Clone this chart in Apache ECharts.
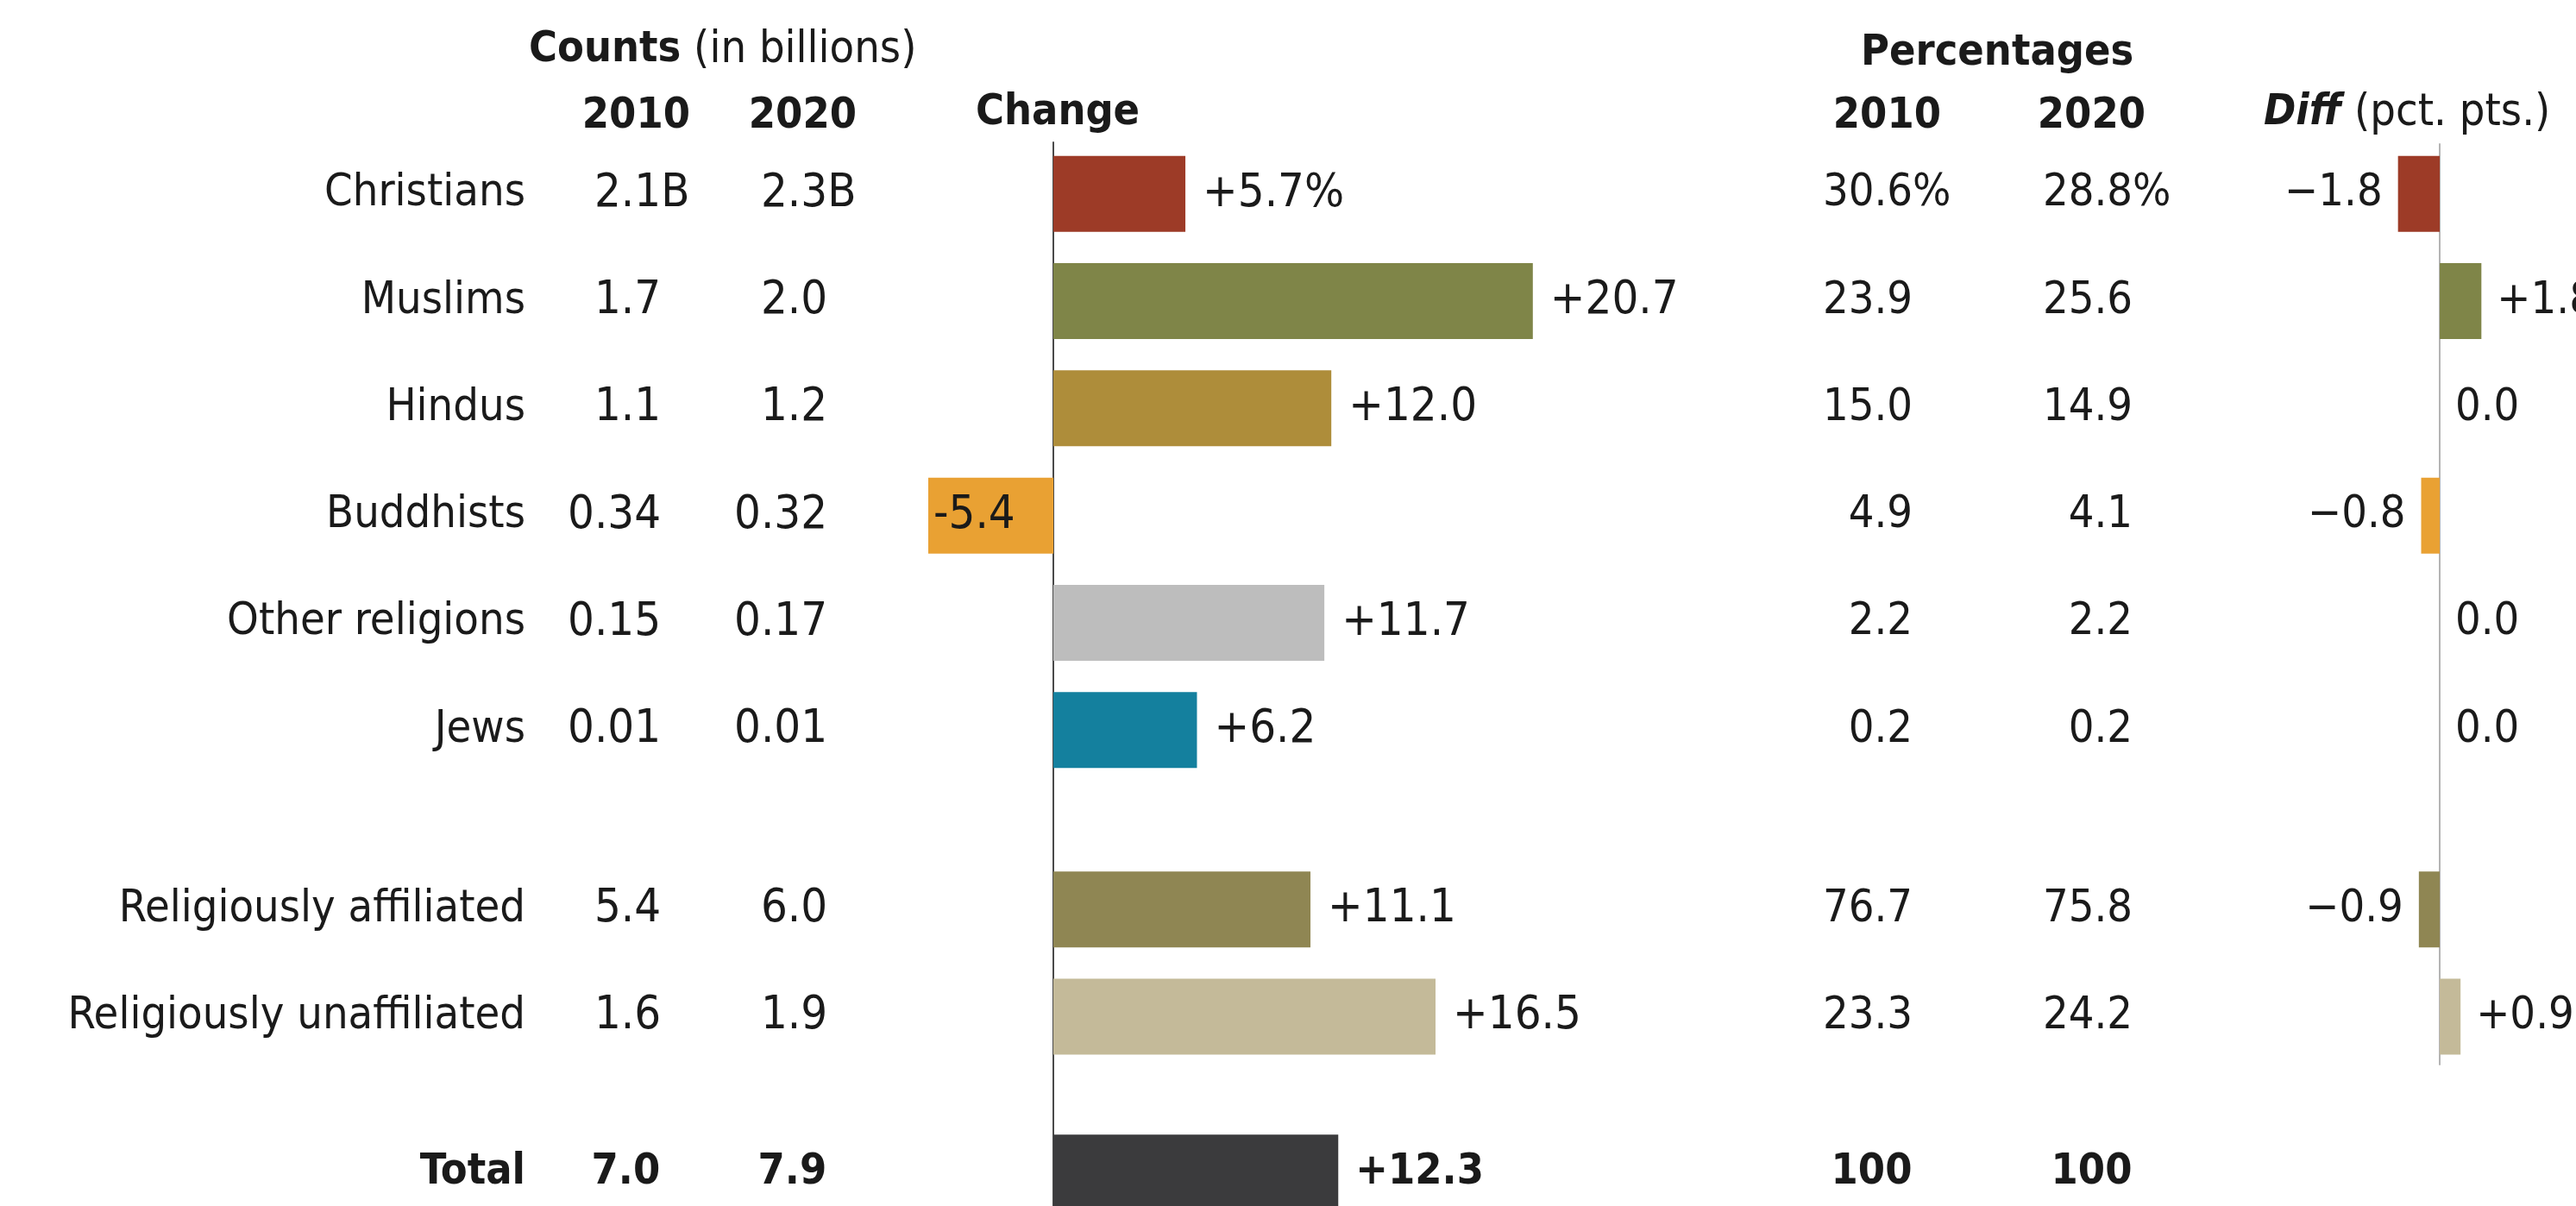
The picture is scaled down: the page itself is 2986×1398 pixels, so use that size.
<!DOCTYPE html>
<html><head><meta charset="utf-8">
<script src="https://cdn.jsdelivr.net/npm/echarts@6/dist/echarts.min.js"></script>
<style>html,body{margin:0;padding:0;background:#fff}#c{width:2986px;height:1398px}</style>
</head><body><div id="c"></div>
<script>
// ---- data ----
const rowNames = ['Christians','Muslims','Hindus','Buddhists','Other religions','Jews','Religiously affiliated','Religiously unaffiliated','Total'];
const groupSizes = [6, 2, 1];
const yearCols = ['2010', '2020'];
const count2010 = ['2.1','1.7','1.1','0.34','0.15','0.01','5.4','1.6','7.0'];
const count2020 = ['2.3','2.0','1.2','0.32','0.17','0.01','6.0','1.9','7.9'];
const changePct = [5.7, 20.7, 12.0, -5.4, 11.7, 6.2, 11.1, 16.5, 12.3];
const pct2010 = ['30.6','23.9','15.0','4.9','2.2','0.2','76.7','23.3','100'];
const pct2020 = ['28.8','25.6','14.9','4.1','2.2','0.2','75.8','24.2','100'];
const diffPts = [-1.8, 1.8, 0.0, -0.8, 0.0, 0.0, -0.9, 0.9];

// ---- style ----
const barColors = ['#9d3b27','#7f8548','#ae8d3a','#e9a133','#bdbdbd','#14809e','#8f8653','#c4ba99','#3b3b3d'];
const FONT = "'Liberation Sans Narrow','DejaVu Sans Condensed','Roboto Condensed',sans-serif";
const FS_LBL = 52, FS_NUM = 54, FS_PCT = 52, FS_BOLD = 50;
const TXT = '#1a1a1a';
const PITCH = 124.3;
const groupTops = [162.6, 992, 1297];
const CLEAR = 'rgba(0,0,0,0)';
const pctHeadPad = [12, 30];

const grid = [], xAxis = [], yAxis = [], series = [];
function txt(size, extra) { return Object.assign({fontFamily: FONT, fontSize: size, color: TXT}, extra || {}); }

let start = 0;
groupSizes.forEach((n, g) => {
  const s = start;
  const names = rowNames.slice(s, s + n);
  const top = groupTops[g], height = n * PITCH;
  const isTot = g === 2;
  const weight = isTot ? 'bold' : 'normal';
  const numSize = isTot ? FS_BOLD : FS_NUM;
  const pctSize = isTot ? FS_BOLD : FS_PCT;

  // counts table
  let gi = grid.length;
  grid.push({left: 703.5, width: 386, top, height, outerBoundsMode: 'none'});
  xAxis.push({gridIndex: gi, type: 'category', data: yearCols, position: 'top',
    axisLine: {show: false}, axisTick: {show: false}, splitLine: {show: false},
    axisLabel: txt(FS_BOLD, {show: g === 0, interval: 0, hideOverlap: false, align: 'right', verticalAlign: 'middle', margin: 28, fontWeight: 'bold'})});
  yAxis.push({gridIndex: gi, type: 'category', data: names, inverse: true,
    axisLine: {show: false}, axisTick: {show: false}, splitLine: {show: false},
    axisLabel: txt(isTot ? FS_BOLD : FS_LBL, {interval: 0, margin: 94.5, align: 'right', fontWeight: weight})});
  [count2010, count2020].forEach((arr, c) => {
    series.push({type: 'scatter', xAxisIndex: gi, yAxisIndex: gi, symbolSize: 1, silent: true,
      itemStyle: {color: CLEAR, opacity: 1},
      data: names.map(nm => [yearCols[c], nm]),
      label: {show: true, position: 'left', distance: 0, opacity: 1,
        formatter: p => '{v|' + arr[s + p.dataIndex] + '}{' + (s + p.dataIndex === 0 ? 'v' : 'h') + '|B}',
        rich: {v: txt(numSize, {fontWeight: weight}), h: txt(numSize, {fontWeight: weight, color: CLEAR})}}});
  });

  // percentages table
  gi = grid.length;
  grid.push({left: 2134.5, width: 510, top, height, outerBoundsMode: 'none'});
  const headStyle = c => txt(FS_BOLD, {fontWeight: 'bold', align: 'right', verticalAlign: 'middle', padding: [0, pctHeadPad[c], 0, 0]});
  xAxis.push({gridIndex: gi, type: 'category', position: 'top',
    data: yearCols.map((y, c) => ({value: y, textStyle: headStyle(c)})),
    axisLine: {show: false}, axisTick: {show: false}, splitLine: {show: false},
    axisLabel: txt(FS_BOLD, {show: g === 0, interval: 0, hideOverlap: false, align: 'right', verticalAlign: 'middle', margin: 28, fontWeight: 'bold'})});
  yAxis.push({gridIndex: gi, type: 'category', data: names, inverse: true, show: false});
  [pct2010, pct2020].forEach((arr, c) => {
    series.push({type: 'scatter', xAxisIndex: gi, yAxisIndex: gi, symbolSize: 1, silent: true,
      itemStyle: {color: CLEAR, opacity: 1},
      data: names.map(nm => [yearCols[c], nm]),
      label: {show: true, position: 'left', distance: 0, opacity: 1,
        formatter: p => '{v|' + arr[s + p.dataIndex] + '}{' + (s + p.dataIndex === 0 ? 'v' : 'h') + '|%}',
        rich: {v: txt(pctSize, {fontWeight: weight}), h: txt(pctSize, {fontWeight: weight, color: CLEAR})}}});
  });

  // change bars
  gi = grid.length;
  grid.push({left: 952.5, width: 1342.5, top, height, outerBoundsMode: 'none'});
  xAxis.push({gridIndex: gi, type: 'value', min: -10, max: 40, show: false});
  yAxis.push({gridIndex: gi, type: 'category', data: names, inverse: true, show: false});
  series.push({type: 'bar', xAxisIndex: gi, yAxisIndex: gi, barWidth: 88, silent: true,
    data: names.map((nm, k) => {
      const i = s + k, v = changePct[i];
      const item = {value: v, itemStyle: {color: barColors[i]}};
      if (v < 0) item.label = {position: 'insideLeft', distance: 6};
      return item;
    }),
    label: txt(numSize, {show: true, position: 'right', distance: 20, fontWeight: weight,
      formatter: p => (p.value > 0 ? '+' : '-') + Math.abs(p.value).toFixed(1) + (s + p.dataIndex === 0 ? '%' : '')})});

  // diff bars
  if (g < 2) {
    gi = grid.length;
    grid.push({left: 2693.75, width: 268.5, top, height, outerBoundsMode: 'none'});
    xAxis.push({gridIndex: gi, type: 'value', min: -5, max: 5, show: false});
    yAxis.push({gridIndex: gi, type: 'category', data: names, inverse: true, show: false});
    series.push({type: 'bar', xAxisIndex: gi, yAxisIndex: gi, barWidth: 88, silent: true,
      data: names.map((nm, k) => {
        const i = s + k, v = diffPts[i];
        const item = {value: v, itemStyle: {color: barColors[i]}};
        if (v < 0) item.label = {position: 'left'};
        return item;
      }),
      label: txt(FS_PCT, {show: true, position: 'right', distance: 18,
        formatter: p => p.value > 0 ? '+' + p.value.toFixed(1) : p.value < 0 ? '\u2212' + Math.abs(p.value).toFixed(1) : '0.0'})});
  }
  start += n;
});

// spines (zero lines)
let gi = grid.length;
grid.push({left: 952.5, width: 1342.5, top: 165, height: 1300, outerBoundsMode: 'none'});
xAxis.push({gridIndex: gi, type: 'value', min: -10, max: 40, show: false});
yAxis.push({gridIndex: gi, type: 'category', data: [''], axisLine: {show: true, onZero: true, lineStyle: {color: '#4a4a4a', width: 2}}, axisTick: {show: false}, axisLabel: {show: false}});
gi = grid.length;
grid.push({left: 2693.75, width: 268.5, top: 167, height: 1067, outerBoundsMode: 'none'});
xAxis.push({gridIndex: gi, type: 'value', min: -5, max: 5, show: false});
yAxis.push({gridIndex: gi, type: 'category', data: [''], axisLine: {show: true, onZero: true, lineStyle: {color: '#b4b4b4', width: 2}}, axisTick: {show: false}, axisLabel: {show: false}});

const title = [
  {text: '{b|Counts} (in billions)', left: 613, top: 26},
  {text: '{b|Change}', left: 1131, top: 99},
  {text: '{b|Percentages}', left: 2157, top: 30},
  {text: '{d|Diff} (pct. pts.)', left: 2624, top: 99}
].map(t => Object.assign(t, {padding: 0,
  textStyle: txt(FS_LBL, {fontWeight: 'normal', lineHeight: 64,
    rich: {b: txt(FS_BOLD, {fontWeight: 'bold', lineHeight: 64}), d: txt(FS_BOLD, {fontWeight: 'bold', fontStyle: 'italic', lineHeight: 64})}})}));

const chart = echarts.init(document.getElementById('c'), null, {renderer: 'canvas'});
chart.setOption({animation: false, backgroundColor: '#fff', title, grid, xAxis, yAxis, series});
</script></body></html>
